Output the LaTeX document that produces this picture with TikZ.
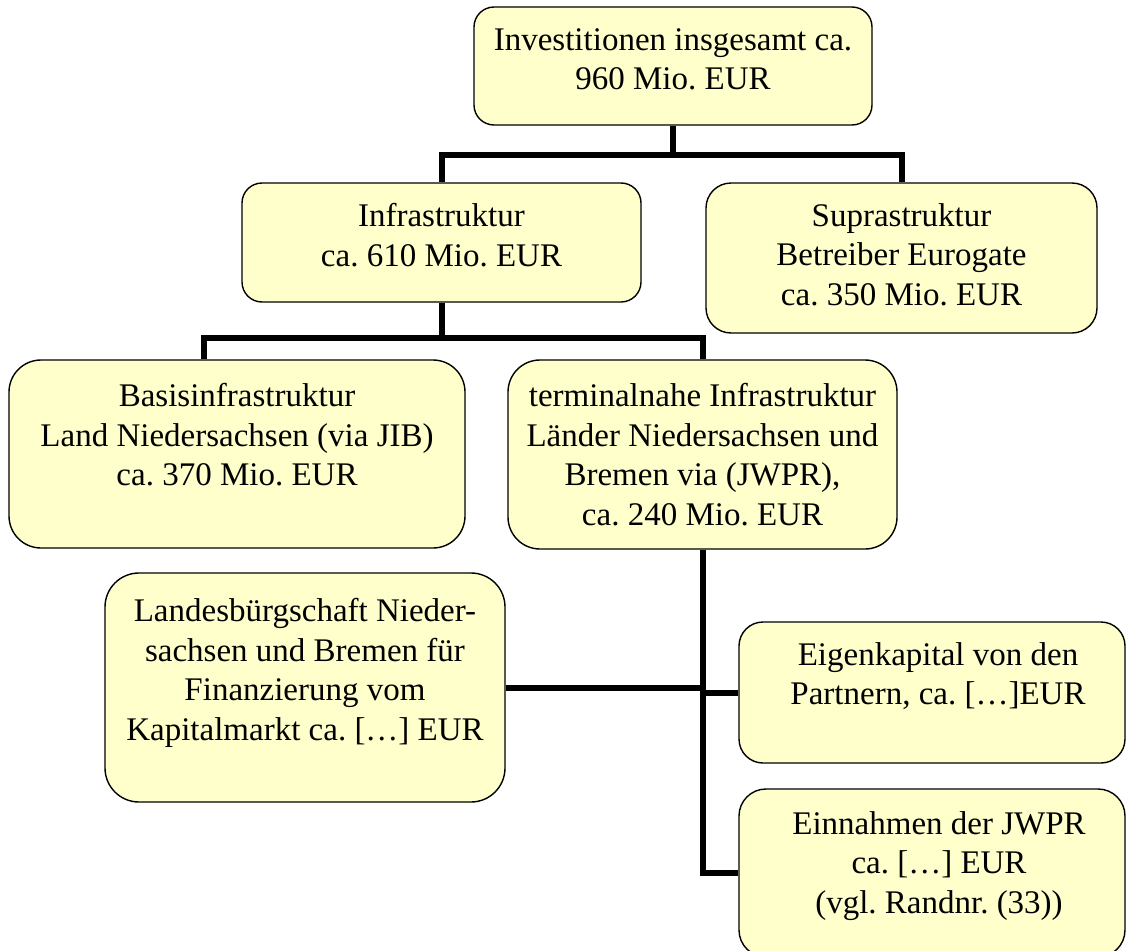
\documentclass[tikz,border=0pt]{standalone}
\usepackage{fontspec}
\setmainfont{Liberation Serif}
\usetikzlibrary{positioning}
\definecolor{boxyellow}{HTML}{FFFFCC}
\frenchspacing

\begin{document}
\begin{tikzpicture}[x=1pt,y=-1pt,
  box/.style={draw,fill=boxyellow,line width=1.4pt,inner sep=0pt},
  txt/.style={inner sep=0pt,align=center,font=\fontsize{33}{39.5}\selectfont},
  conn/.style={line width=6pt}]
\useasboundingbox (0,0) rectangle (1126,950);

\node[box,minimum width=398pt,minimum height=118pt,rounded corners=20pt] (total) at (673,66) {};
\node[box,minimum width=399pt,minimum height=119pt,rounded corners=20pt] (infra) at (441.5,242.5) {};
\node[box,minimum width=391pt,minimum height=150pt,rounded corners=25pt] (supra) at (901.5,258) {};
\node[box,minimum width=456pt,minimum height=188pt,rounded corners=32pt] (basis) at (237,454) {};
\node[box,minimum width=389pt,minimum height=189pt,rounded corners=32pt] (terminal) at (702.5,454.5) {};
\node[box,minimum width=400pt,minimum height=229pt,rounded corners=34pt] (landes) at (305,687.5) {};
\node[box,minimum width=386pt,minimum height=141pt,rounded corners=24pt] (eigen) at (932,692.5) {};
\node[box,minimum width=386pt,minimum height=168pt,rounded corners=27pt] (einnahmen) at (932,873) {};

\node[txt,below=22pt of total.north] (total-t) {Investitionen insgesamt ca.\\960 Mio. EUR};
\node[txt,below=21pt of infra.north] (infra-t) {Infrastruktur\\ca. 610 Mio. EUR};
\node[txt,below=21pt of supra.north] (supra-t) {Suprastruktur\\Betreiber Eurogate\\ca. 350 Mio. EUR};
\node[txt,below=24pt of basis.north] (basis-t) {Basisinfrastruktur\\Land Niedersachsen (via JIB)\\ca. 370 Mio. EUR};
\node[txt,below=24pt of terminal.north] (terminal-t) {terminalnahe Infrastruktur\\Länder Niedersachsen und\\Bremen via (JWPR),\\ca. 240 Mio. EUR};
\node[txt,below=26pt of landes.north] (landes-t) {Landesbürgschaft Nieder-\\sachsen und Bremen für\\Finanzierung vom\\Kapitalmarkt ca. […] EUR};
\node[txt,below=21pt of eigen.north,xshift=6pt] (eigen-t) {Eigenkapital von den\\Partnern, ca. […]EUR};
\node[txt,below=23pt of einnahmen.north,xshift=7pt] (einnahmen-t) {Einnahmen der JWPR\\ca. […] EUR\\(vgl. Randnr. (33))};

\draw[conn] (total.south) -- ++(0,29) coordinate (j1);
\draw[conn] (infra.north) |- (j1) -| (supra.north);
\draw[conn] (infra.south) -- ++(0,35.5) coordinate (j2);
\draw[conn] ([xshift=-33pt]basis.north) |- (j2) -| (terminal.north);
\draw[conn] (terminal.south) |- (einnahmen.west);
\draw[conn] (landes.east) -- (landes.east -| terminal.south);
\draw[conn] (eigen.west) -- (eigen.west -| terminal.south);
\end{tikzpicture}
\end{document}
